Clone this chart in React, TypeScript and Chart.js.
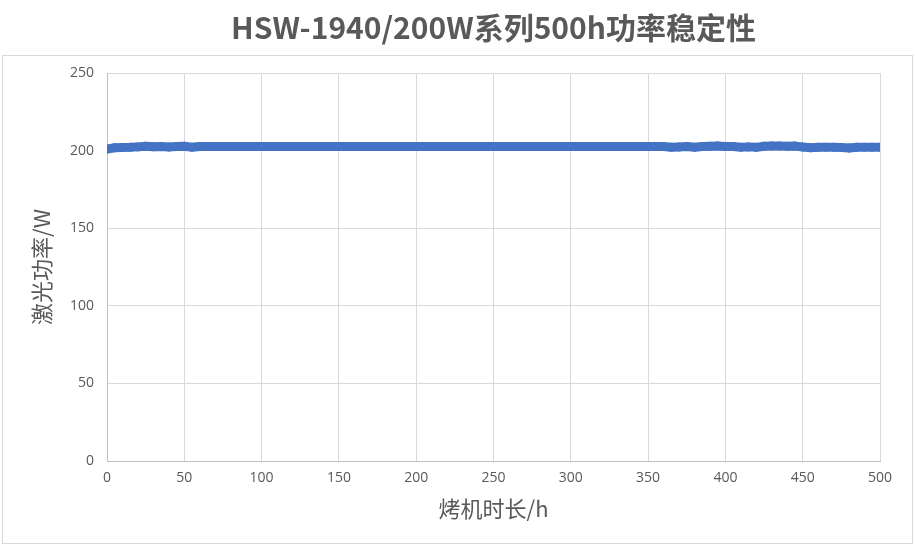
import React, { useEffect, useRef } from "react";
import { Chart, registerables } from "chart.js";

Chart.register(...registerables);

const titleText = "HSW-1940/200W系列500h功率稳定性";
const xAxisTitle = "烤机时长/h";
const yAxisTitle = "激光功率/W";

const hours = [
  0, 5, 10, 15, 20, 25, 30, 35, 40, 45, 50, 55, 60, 65, 70, 75, 80, 85, 90, 95,
  100, 105, 110, 115, 120, 125, 130, 135, 140, 145, 150, 155, 160, 165, 170, 175, 180, 185, 190, 195,
  200, 205, 210, 215, 220, 225, 230, 235, 240, 245, 250, 255, 260, 265, 270, 275, 280, 285, 290, 295,
  300, 305, 310, 315, 320, 325, 330, 335, 340, 345, 350, 355, 360, 365, 370, 375, 380, 385, 390, 395,
  400, 405, 410, 415, 420, 425, 430, 435, 440, 445, 450, 455, 460, 465, 470, 475, 480, 485, 490, 495, 500,
];

const power = [
  201.0, 201.8, 202.0, 202.1, 202.4, 202.8, 202.5, 202.7, 202.3, 202.6, 202.8, 202.2, 202.7, 202.6, 202.7, 202.6, 202.6, 202.7, 202.6, 202.6,
  202.6, 202.6, 202.7, 202.6, 202.6, 202.6, 202.6, 202.7, 202.6, 202.6, 202.6, 202.6, 202.6, 202.6, 202.7, 202.6, 202.6, 202.6, 202.6, 202.6,
  202.6, 202.6, 202.6, 202.6, 202.6, 202.6, 202.6, 202.6, 202.6, 202.6, 202.6, 202.6, 202.6, 202.6, 202.6, 202.6, 202.6, 202.6, 202.6, 202.6,
  202.6, 202.6, 202.6, 202.6, 202.6, 202.6, 202.6, 202.6, 202.6, 202.6, 202.6, 202.6, 202.6, 202.1, 202.3, 202.6, 202.1, 202.6, 202.8, 202.9,
  202.7, 202.6, 202.2, 202.4, 202.1, 202.8, 202.9, 203.0, 202.8, 202.9, 202.3, 201.9, 202.1, 202.2, 202.1, 202.0, 201.7, 202.1, 202.2, 202.2, 202.2,
];

const xTicks = [0, 50, 100, 150, 200, 250, 300, 350, 400, 450, 500];
const yTicks = [0, 50, 100, 150, 200, 250];

const framePlugin = {
  id: "frame",
  beforeDraw(chart: any) {
    const ctx = chart.ctx;
    ctx.save();
    ctx.strokeStyle = "#d9d9d9";
    ctx.lineWidth = 1;
    ctx.strokeRect(2.5, 55.5, chart.width - 5, chart.height - 58);
    ctx.restore();
  },
};

export default function App() {
  const ref = useRef<HTMLCanvasElement>(null);
  useEffect(() => {
    document.body.style.margin = "0";
    const canvas = ref.current!;
    const chart = new Chart(canvas, {
      type: "line",
      data: {
        datasets: [
          {
            data: hours.map((h, i) => ({ x: h, y: power[i] })),
            borderColor: "#4472C4",
            backgroundColor: "#4472C4",
            borderWidth: 9,
            pointRadius: 4.5,
            pointBorderWidth: 0,
            borderCapStyle: "round",
            borderJoinStyle: "round",
            tension: 0,
          },
        ],
      },
      options: {
        responsive: false,
        animation: false,
        devicePixelRatio: 1,
        layout: { padding: { left: 28, right: 35, top: 0, bottom: 24 } },
        plugins: {
          legend: { display: false },
          tooltip: { enabled: false },
          title: {
            display: true,
            text: titleText,
            fullSize: false,
            color: "#595959",
            font: { family: "'Noto Sans CJK SC', 'Noto Sans', sans-serif", size: 30, weight: "bold" },
            padding: { top: 10, bottom: 27 },
          },
        },
        scales: {
          x: {
            type: "linear",
            min: 0,
            max: 500,
            afterBuildTicks: (s: any) => {
              s.ticks = xTicks.map((v) => ({ value: v }));
            },
            afterFit: (s: any) => {
              s.height = 61;
            },
            grid: { color: "#d9d9d9", drawTicks: false, lineWidth: 1 },
            border: { color: "#bfbfbf" },
            ticks: {
              color: "#595959",
              padding: 9,
              font: { family: "'Open Sans', 'Noto Sans', sans-serif", size: 14 },
            },
            title: {
              display: true,
              text: xAxisTitle,
              color: "#595959",
              padding: { top: 4, bottom: 0 },
              font: { family: "'Noto Sans CJK SC', sans-serif", size: 22 },
            },
          },
          y: {
            type: "linear",
            min: 0,
            max: 250,
            afterBuildTicks: (s: any) => {
              s.ticks = yTicks.map((v) => ({ value: v }));
            },
            afterFit: (s: any) => {
              s.width = 79;
            },
            grid: { color: "#d9d9d9", drawTicks: false, lineWidth: 1 },
            border: { color: "#bfbfbf" },
            ticks: {
              color: "#595959",
              padding: 13,
              font: { family: "'Open Sans', 'Noto Sans', sans-serif", size: 14 },
            },
            title: {
              display: true,
              text: yAxisTitle,
              color: "#595959",
              padding: { top: 0, bottom: 8 },
              font: { family: "'Noto Sans CJK SC', sans-serif", size: 22 },
            },
          },
        },
      },
      plugins: [framePlugin],
    } as any);
    return () => chart.destroy();
  }, []);
  return <canvas ref={ref} width={915} height={546} style={{ display: "block" }} />;
}
